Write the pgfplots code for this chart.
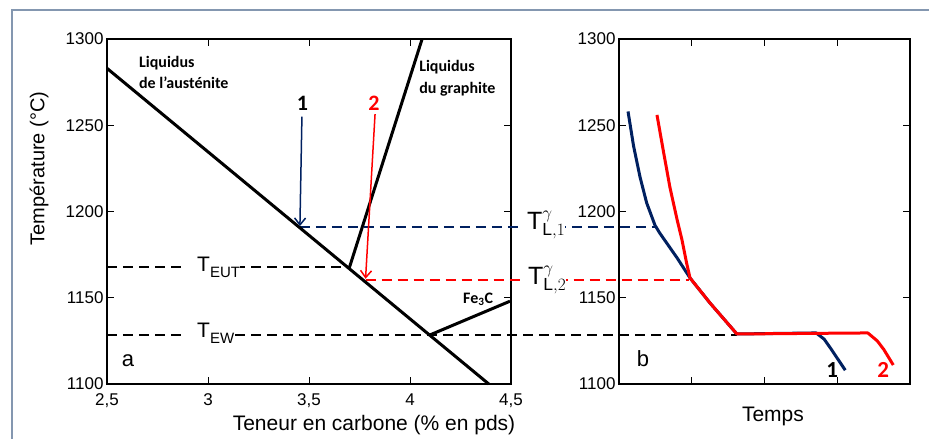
\documentclass[border=0pt]{standalone}
\usepackage{pgfplots}
\pgfplotsset{compat=1.18}
\usepackage{fontspec}
\setmainfont{Liberation Sans}
\newfontfamily\calib{Carlito Bold}
\usetikzlibrary{arrows.meta}
\definecolor{navy}{RGB}{0,32,96}
\definecolor{framecol}{RGB}{132,151,176}

\pgfplotsset{
  diag/.style={
    scale only axis, height=345pt,
    ymin=1100, ymax=1300,
    ytick={1100,1150,1200,1250,1300},
    yticklabels={1100,1150,1200,1250,1300},
    tick align=inside,
    major tick length=7pt,
    tick style={black, line width=0.9pt},
    axis line style={line width=1.1pt},
    tick label style={font=\fontsize{17}{20}\selectfont},
    label style={font=\fontsize{20}{24}\selectfont},
    clip=false,
  },
}

\begin{document}
\begin{tikzpicture}
\path[use as bounding box] (0pt,0pt) rectangle (929pt,439pt);
\draw[framecol, line width=2pt] (12pt,0pt) -- (12pt,429pt) -- (929pt,429pt);

% a : diagramme de phases
\begin{axis}[diag, at={(107pt,55pt)}, anchor=south west, width=404pt,
  xmin=2.5, xmax=4.5,
  xtick={2.5,3,3.5,4,4.5},
  xticklabels={{2,5},3,{3,5},4,{4,5}},
  xticklabel style={yshift=-6pt},
  xlabel={Teneur en carbone (\% en pds)},
  xlabel style={at={(axis description cs:0.661,-0.119)}, anchor=center, font=\fontsize{21}{24}\selectfont},
  ylabel={Température (°C)},
  ylabel style={at={(axis description cs:-0.168,0.625)}, anchor=center},
]
% paliers
\addplot[black, line width=1.8pt, dash pattern=on 10pt off 6pt] coordinates {(2.5,1168) (3.7,1168)};
\addplot[black, line width=1.8pt, dash pattern=on 10pt off 6pt] coordinates {(2.5,1128.5) (5.619,1128.5)};
\addplot[navy, line width=1.8pt, dash pattern=on 10pt off 6pt] coordinates {(3.455,1191) (5.223,1191)};
\addplot[red, line width=1.8pt, dash pattern=on 10pt off 6pt] coordinates {(3.78,1160.5) (5.38,1160.5)};
% liquidus
\addplot[black, line width=3pt] coordinates {(2.5,1283) (4.39,1100)};
\addplot[black, line width=3pt] coordinates {(3.7,1167.5) (4.06,1300)};
\addplot[black, line width=3pt] coordinates {(4.1,1128.5) (4.495,1148)};
% fleches
\addplot[navy, line width=1.5pt, -{Straight Barb[length=7pt,width=11pt]}] coordinates {(3.465,1255) (3.455,1191.5)};
\addplot[red, line width=1.5pt, -{Straight Barb[length=7pt,width=11pt]}] coordinates {(3.827,1256.5) (3.78,1161)};

\node[anchor=base] at (axis cs:3.468,1258.8) {\calib\fontsize{22}{24}\selectfont 1};
\node[anchor=base, red] at (axis cs:3.822,1258.8) {\calib\fontsize{22}{24}\selectfont 2};
\node[anchor=north west, align=left, inner sep=0pt, font=\calib\fontsize{16}{21}\selectfont] at (axis cs:2.658,1290) {Liquidus\\de l’austénite};
\node[anchor=north west, align=left, inner sep=0pt, font=\calib\fontsize{16}{22}\selectfont] at (axis cs:4.045,1288) {Liquidus\\du graphite};
\node[anchor=center, font=\calib\fontsize{16}{18}\selectfont] at (axis cs:4.337,1149) {Fe\textsubscript{3}C};
\node[anchor=base west, fill=white, inner xsep=0pt, inner ysep=3pt, font=\fontsize{21}{24}\selectfont]
  at (axis cs:2.886,1165.1) {\hspace{12pt}T\raisebox{-6pt}{\fontsize{15}{15}\selectfont EUT}\hspace{19pt}};
\node[anchor=base west, fill=white, inner xsep=0pt, inner ysep=3pt, font=\fontsize{21}{24}\selectfont]
  at (axis cs:2.886,1126.7) {\hspace{12pt}T\raisebox{-6pt}{\fontsize{15}{15}\selectfont EW}\hspace{12pt}};
\node[anchor=base west, fill=white, inner xsep=0pt, inner ysep=1pt, font=\fontsize{25}{28}\selectfont]
  at (axis cs:4.554,1189.3) {\hspace{5pt}$\mathrm{T}^{\gamma}_{\mathrm{L},1}$\hspace{3pt}};
\node[anchor=base west, fill=white, inner xsep=0pt, inner ysep=1pt, font=\fontsize{25}{28}\selectfont]
  at (axis cs:4.559,1157.4) {\hspace{5pt}$\mathrm{T}^{\gamma}_{\mathrm{L},2}$\hspace{3pt}};
\node[anchor=base, font=\fontsize{22}{24}\selectfont] at (axis cs:2.604,1110.4) {a};
\end{axis}

% b : courbes de refroidissement
\begin{axis}[diag, at={(619pt,55pt)}, anchor=south west, width=291pt,
  xmin=0, xmax=4, xtick={1,2,3}, xticklabels={},
  xlabel={Temps},
  xlabel style={at={(axis description cs:0.529,-0.093)}, anchor=center, font=\fontsize{21}{24}\selectfont},
]
\addplot[navy, line width=3pt, line join=round] coordinates {
  (0.124,1258) (0.2,1238) (0.289,1220) (0.38,1205) (0.495,1192)
  (0.56,1187.5) (0.80,1173) (0.976,1161.5) (1.25,1147) (1.62,1129)
  (2.71,1129.6) (2.82,1126) (2.92,1120) (3.11,1108)};
\addplot[red, line width=3pt, line join=round] coordinates {
  (0.522,1256) (0.61,1235) (0.70,1214) (0.80,1195) (0.866,1183.5)
  (0.93,1170) (0.976,1161.5) (1.25,1147) (1.62,1129)
  (3.42,1129.6) (3.55,1125) (3.64,1120) (3.77,1111)};
\node[anchor=base, font=\calib\fontsize{23}{24}\selectfont] at (axis cs:2.93,1103.5) {1};
\node[anchor=base, red, font=\calib\fontsize{23}{24}\selectfont] at (axis cs:3.63,1103.5) {2};
\node[anchor=base, font=\fontsize{22}{24}\selectfont] at (axis cs:0.33,1110.4) {b};
\end{axis}
\end{tikzpicture}
\end{document}
